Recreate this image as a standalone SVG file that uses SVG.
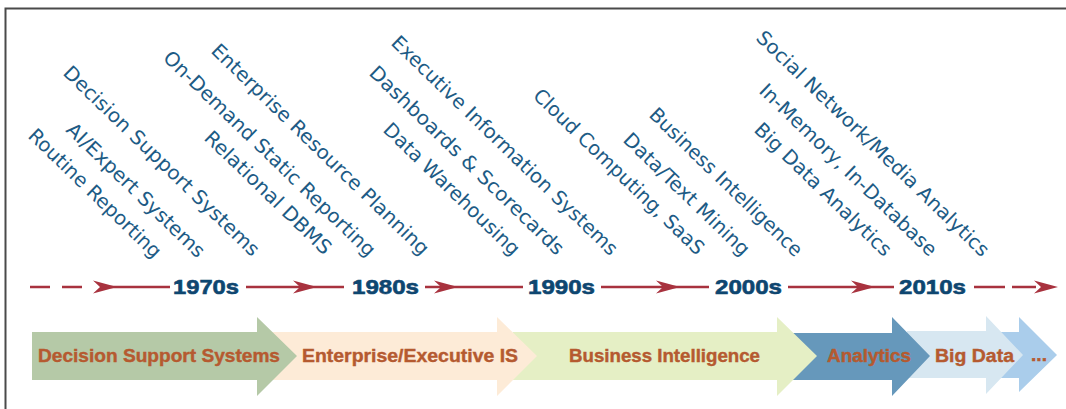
<svg xmlns="http://www.w3.org/2000/svg" width="1066" height="409" viewBox="0 0 1066 409">
<style>
.lbl{font-family:"DejaVu Sans","Liberation Sans",sans-serif;font-size:19.5px;fill:#1d5b85;}
.yr{font-family:"Liberation Sans",Arial,sans-serif;font-weight:bold;font-size:21px;fill:#0e4670;stroke:#0e4670;stroke-width:0.6;}
.era{font-family:"Liberation Sans",Arial,sans-serif;font-weight:bold;font-size:18px;fill:#b55a30;stroke:#b55a30;stroke-width:0.4;}
.ln{stroke:#a8323e;stroke-width:2.5;fill:none;}
.hd{fill:#a8323e;}
</style>
<defs>
<path id="ah" d="M0,0 L-24,-6.5 L-17,0 L-24,6.5 Z"/>
</defs>
<rect x="0" y="0" width="1066" height="409" fill="#ffffff"/>
<g id="frame" fill="none" stroke="#4a4a4a" stroke-width="2">
<path d="M5.5,409 L5.5,8.5 L1066,8.5"/>
</g>

<g id="labels">
<g id="lbl-routine"><text class="lbl" transform="translate(27,137) rotate(44)" textLength="176" lengthAdjust="spacingAndGlyphs">Routine Reporting</text></g>
<g id="lbl-ai"><text class="lbl" transform="translate(65,131) rotate(44)" textLength="184" lengthAdjust="spacingAndGlyphs">AI/Expert Systems</text></g>
<g id="lbl-dss"><text class="lbl" transform="translate(62,74) rotate(44)" textLength="264" lengthAdjust="spacingAndGlyphs">Decision Support Systems</text></g>
<g id="lbl-rdbms"><text class="lbl" transform="translate(203,139) rotate(44)" textLength="168" lengthAdjust="spacingAndGlyphs">Relational DBMS</text></g>
<g id="lbl-ondemand"><text class="lbl" transform="translate(162,59) rotate(44)" textLength="286" lengthAdjust="spacingAndGlyphs">On-Demand Static Reporting</text></g>
<g id="lbl-erp"><text class="lbl" transform="translate(210,52) rotate(44)" textLength="294" lengthAdjust="spacingAndGlyphs">Enterprise Resource Planning</text></g>
<g id="lbl-eis"><text class="lbl" transform="translate(390,44) rotate(44)" textLength="306" lengthAdjust="spacingAndGlyphs">Executive Information Systems</text></g>
<g id="lbl-dash"><text class="lbl" transform="translate(368,74) rotate(44)" textLength="262" lengthAdjust="spacingAndGlyphs">Dashboards &amp; Scorecards</text></g>
<g id="lbl-dw"><text class="lbl" transform="translate(382,131) rotate(44)" textLength="181" lengthAdjust="spacingAndGlyphs">Data Warehousing</text></g>
<g id="lbl-cloud"><text class="lbl" transform="translate(532,97) rotate(44)" textLength="229" lengthAdjust="spacingAndGlyphs">Cloud Computing, SaaS</text></g>
<g id="lbl-mining"><text class="lbl" transform="translate(622,141) rotate(44)" textLength="167" lengthAdjust="spacingAndGlyphs">Data/Text Mining</text></g>
<g id="lbl-bi"><text class="lbl" transform="translate(648,116) rotate(44)" textLength="204" lengthAdjust="spacingAndGlyphs">Business Intelligence</text></g>
<g id="lbl-social"><text class="lbl" transform="translate(755,39) rotate(44)" textLength="315" lengthAdjust="spacingAndGlyphs">Social Network/Media Analytics</text></g>
<g id="lbl-inmem"><text class="lbl" transform="translate(758,92) rotate(44)" textLength="238" lengthAdjust="spacingAndGlyphs">In-Memory, In-Database</text></g>
<g id="lbl-bda"><text class="lbl" transform="translate(753,131) rotate(44)" textLength="182" lengthAdjust="spacingAndGlyphs">Big Data Analytics</text></g>
</g>

<g id="connectors">
<path class="ln" d="M30,287 H50 M62,287 H82"/>
<path class="ln" d="M100,287 H170"/>
<use href="#ah" class="hd" x="117" y="287"/>
<path class="ln" d="M246,287 H344"/>
<use href="#ah" class="hd" x="317" y="287"/>
<path class="ln" d="M425,287 H523"/>
<use href="#ah" class="hd" x="458" y="287"/>
<path class="ln" d="M601,287 H709"/>
<use href="#ah" class="hd" x="680" y="287"/>
<path class="ln" d="M788,287 H894"/>
<use href="#ah" class="hd" x="875" y="287"/>
<path class="ln" d="M974,287 H1005 M1012,287 H1036"/>
<use href="#ah" class="hd" x="1058" y="287"/>
</g>

<g id="years">
<g id="y1970"><text class="yr" x="173" y="294" textLength="66" lengthAdjust="spacingAndGlyphs">1970s</text></g>
<g id="y1980"><text class="yr" x="352" y="294" textLength="67" lengthAdjust="spacingAndGlyphs">1980s</text></g>
<g id="y1990"><text class="yr" x="528" y="294" textLength="67" lengthAdjust="spacingAndGlyphs">1990s</text></g>
<g id="y2000"><text class="yr" x="715" y="294" textLength="67" lengthAdjust="spacingAndGlyphs">2000s</text></g>
<g id="y2010"><text class="yr" x="899" y="294" textLength="67" lengthAdjust="spacingAndGlyphs">2010s</text></g>
</g>

<g id="eras">
<g id="era-more"><path d="M1000,332 H1019 V317 L1057,355 L1019,392 V378 H1000 Z" fill="#aacdeb"/><text class="era" x="1031" y="361" textLength="16" lengthAdjust="spacingAndGlyphs">...</text></g>
<g id="era-bigdata"><path d="M907,331 H986 V316 L1023,355 L986,394 V378 H907 Z" fill="#d7e7f1"/><text class="era" x="935" y="362" textLength="79" lengthAdjust="spacingAndGlyphs">Big Data</text></g>
<g id="era-analytics"><path d="M793,333 H892 V317 L930,356 L892,396 V380 H793 Z" fill="#6698bb"/><text class="era" x="827" y="362" textLength="84" lengthAdjust="spacingAndGlyphs">Analytics</text></g>
<g id="era-bi"><path d="M513,332 H777 V317 L817,356 L777,396 V380 H513 Z" fill="#e5efc5"/><text class="era" x="569" y="362" textLength="191" lengthAdjust="spacingAndGlyphs">Business Intelligence</text></g>
<g id="era-eis"><path d="M257,332 H497 V317 L537,356 L497,396 V380 H257 Z" fill="#fdebd7"/><text class="era" x="302" y="362" textLength="216" lengthAdjust="spacingAndGlyphs">Enterprise/Executive IS</text></g>
<g id="era-dss"><path d="M32,332 H257 V317 L297,356 L257,396 V380 H32 Z" fill="#b5c9a7"/><text class="era" x="38" y="362" textLength="242" lengthAdjust="spacingAndGlyphs">Decision Support Systems</text></g>
</g>
</svg>
